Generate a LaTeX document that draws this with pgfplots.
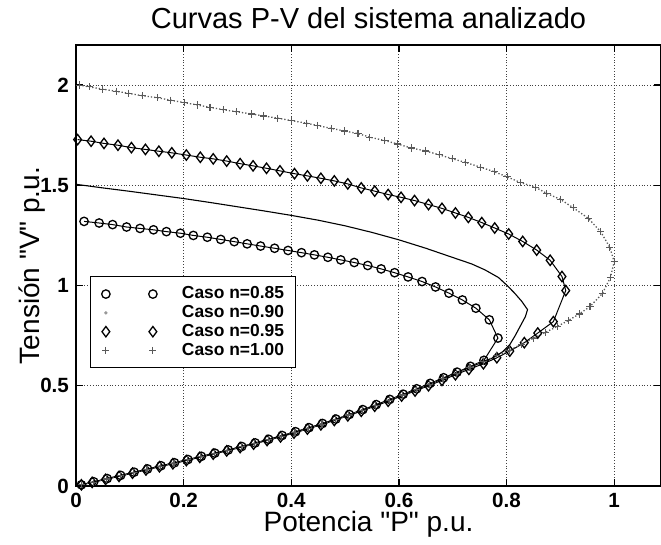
\documentclass[border=0pt]{standalone}
\usepackage{fontspec}
\setmainfont{Liberation Sans}[Ligatures=TeXOff]
\usepackage{pgfplots}
\pgfplotsset{compat=1.18}
\begin{document}
\begin{tikzpicture}
\begin{axis}[
  scale only axis, width=292.5pt, height=220.5pt,
  xmin=0, xmax=1.087, ymin=0, ymax=2.2,
  xtick={0,0.2,0.4,0.6,0.8,1}, ytick={0,0.5,1,1.5,2},
  grid=major, grid style={densely dotted, black!75, line width=0.55pt},
  axis line style={line width=0.8pt},
  tick align=inside, major tick length=3.5pt, tick style={black, line width=0.6pt},
  /pgf/number format/assume math mode=true,
  ticklabel style={font=\bfseries\fontsize{10.3}{11}\selectfont},
  title={Curvas P-V del sistema analizado},
  title style={font=\fontsize{14.5}{16}\selectfont, at={(axis description cs:0.5,1)}, anchor=base, yshift=2pt},
  xlabel={Potencia "P" p.u.},
  ylabel={Tensión "V" p.u.},
  xlabel style={font=\fontsize{14}{16}\selectfont, at={(axis description cs:0.5,0)}, anchor=base, yshift=-22.5pt},
  ylabel style={font=\fontsize{14}{16}\selectfont, at={(axis description cs:0,0.5)}, anchor=base, yshift=18pt},
  legend style={at={(axis description cs:0.024,0.476)}, anchor=north west, draw=black, line width=0.6pt,
    inner xsep=5pt, inner ysep=4pt, font=\bfseries\fontsize{8.7}{9}\selectfont,
    nodes={inner sep=0.7pt, text height=6.4pt, text depth=1.6pt}, row sep=0pt},
  legend cell align=left,
  legend image code/.code={\draw[#1] plot[only marks] coordinates {(0pt,0pt) (23.5pt,0pt)}; \path (-2.3pt,0pt) (37pt,0pt);},
]
% n = 0.85
\addplot[black, line width=0.5pt, mark=o, mark size=2.1pt, mark options={line width=0.65pt}] coordinates {
(0.015,1.320) (0.043,1.312) (0.068,1.304) (0.094,1.292) (0.119,1.285) (0.144,1.278) (0.168,1.269)
(0.194,1.261) (0.218,1.250) (0.244,1.241) (0.269,1.230) (0.294,1.219) (0.318,1.208) (0.343,1.197)
(0.369,1.186) (0.394,1.175) (0.419,1.164) (0.443,1.153) (0.468,1.141) (0.492,1.128) (0.517,1.115)
(0.542,1.100) (0.567,1.083) (0.592,1.064) (0.617,1.043) (0.643,1.020) (0.668,0.993) (0.693,0.962)
(0.718,0.928) (0.743,0.887) (0.768,0.829) (0.784,0.738) (0.758,0.627) (0.733,0.597) (0.708,0.568)
(0.683,0.540) (0.658,0.512) (0.633,0.485) (0.608,0.458) (0.583,0.432) (0.558,0.406) (0.533,0.381)
(0.508,0.357) (0.483,0.334) (0.458,0.312) (0.433,0.291) (0.408,0.271) (0.383,0.252) (0.358,0.233)
(0.333,0.215) (0.308,0.197) (0.283,0.180) (0.258,0.164) (0.233,0.148) (0.208,0.132) (0.183,0.116)
(0.158,0.101) (0.133,0.085) (0.108,0.069) (0.083,0.053) (0.058,0.037) (0.033,0.021) (0.010,0.006)
};
\addlegendentry{Caso n=0.85}
% n = 0.90
\addplot[black, line width=0.55pt, no marks,
  legend image code/.code={\fill[black!40] (0pt,0pt) circle (0.5pt); \path (-2.3pt,0pt) (37pt,0pt);}] coordinates {
(0.000,1.505) (0.050,1.487) (0.100,1.470) (0.150,1.452) (0.200,1.434) (0.250,1.414) (0.300,1.393)
(0.350,1.372) (0.400,1.350) (0.450,1.326) (0.500,1.298) (0.550,1.265) (0.600,1.228) (0.650,1.186)
(0.700,1.140) (0.735,1.108) (0.760,1.078) (0.785,1.040) (0.800,1.003) (0.815,0.962) (0.828,0.922)
(0.839,0.880) (0.835,0.845) (0.826,0.800) (0.816,0.750) (0.806,0.705) (0.793,0.670) (0.775,0.640)
(0.750,0.612) (0.725,0.585) (0.700,0.556) (0.650,0.500) (0.600,0.447) (0.550,0.396) (0.500,0.348)
(0.450,0.304) (0.400,0.263) (0.350,0.226) (0.300,0.191) (0.250,0.158) (0.200,0.126) (0.150,0.095)
(0.100,0.063) (0.050,0.031) (0.000,0.000)
};
\addlegendentry{Caso n=0.90}
% n = 0.95
\addplot[black, line width=0.5pt, mark=diamond, mark size=2.6pt, mark options={line width=0.65pt}] coordinates {
(0.003,1.728) (0.028,1.720) (0.052,1.709) (0.078,1.700) (0.103,1.688) (0.129,1.679) (0.154,1.670)
(0.178,1.662) (0.205,1.651) (0.231,1.640) (0.255,1.632) (0.280,1.621) (0.305,1.608) (0.329,1.597)
(0.354,1.585) (0.379,1.572) (0.406,1.558) (0.430,1.547) (0.455,1.535) (0.480,1.522) (0.505,1.507)
(0.530,1.487) (0.555,1.471) (0.580,1.454) (0.604,1.440) (0.629,1.424) (0.655,1.404) (0.680,1.385)
(0.705,1.362) (0.729,1.340) (0.754,1.314) (0.778,1.287) (0.804,1.257) (0.830,1.220) (0.856,1.177)
(0.881,1.126) (0.903,1.045) (0.910,0.975) (0.887,0.820) (0.858,0.763) (0.833,0.715) (0.806,0.673)
(0.782,0.640) (0.757,0.610) (0.730,0.582) (0.705,0.555) (0.680,0.527) (0.655,0.500) (0.630,0.474)
(0.605,0.449) (0.580,0.423) (0.555,0.398) (0.530,0.373) (0.505,0.350) (0.480,0.327) (0.455,0.305)
(0.430,0.284) (0.405,0.264) (0.380,0.245) (0.355,0.227) (0.330,0.209) (0.305,0.192) (0.280,0.175)
(0.255,0.159) (0.230,0.143) (0.205,0.127) (0.180,0.111) (0.155,0.096) (0.130,0.080) (0.105,0.064)
(0.080,0.048) (0.055,0.033) (0.030,0.018) (0.010,0.006)
};
\addlegendentry{Caso n=0.95}
% n = 1.00
\addplot[black!65, densely dotted, line width=0.65pt, mark=+, mark size=1.8pt, mark options={solid, line width=0.55pt}] coordinates {
(0.006,2.000) (0.025,1.991) (0.049,1.980) (0.075,1.969) (0.098,1.959) (0.123,1.947) (0.151,1.937)
(0.175,1.925) (0.202,1.912) (0.225,1.901) (0.249,1.889) (0.274,1.877) (0.298,1.867) (0.326,1.856)
(0.349,1.846) (0.375,1.835) (0.400,1.823) (0.428,1.810) (0.449,1.798) (0.474,1.784) (0.499,1.771)
(0.524,1.758) (0.546,1.740) (0.574,1.723) (0.598,1.706) (0.623,1.686) (0.650,1.671) (0.675,1.652)
(0.700,1.632) (0.724,1.614) (0.752,1.590) (0.777,1.568) (0.801,1.542) (0.826,1.514) (0.854,1.490)
(0.875,1.459) (0.900,1.430) (0.924,1.388) (0.952,1.335) (0.975,1.268) (0.992,1.190) (1.000,1.118)
(0.993,1.040) (0.978,0.960) (0.955,0.895) (0.935,0.858) (0.915,0.826) (0.895,0.797) (0.872,0.766)
(0.850,0.737) (0.828,0.708) (0.806,0.678) (0.782,0.650) (0.757,0.622) (0.732,0.592) (0.707,0.563)
(0.682,0.535) (0.657,0.507) (0.632,0.480) (0.607,0.454) (0.582,0.428) (0.557,0.403) (0.532,0.378)
(0.507,0.354) (0.482,0.331) (0.457,0.309) (0.432,0.288) (0.407,0.268) (0.382,0.249) (0.357,0.230)
(0.332,0.212) (0.307,0.195) (0.282,0.178) (0.257,0.162) (0.232,0.146) (0.207,0.130) (0.182,0.114)
(0.157,0.099) (0.132,0.083) (0.107,0.067) (0.082,0.051) (0.057,0.035) (0.032,0.019) (0.010,0.006)
};
\addlegendentry{Caso n=1.00}
\end{axis}
\pgfresetboundingbox
\path[use as bounding box] ([shift={(-38pt,-29pt)}]current axis.south west) rectangle ([shift={(0pt,22.5pt)}]current axis.north east);
\end{tikzpicture}
\end{document}
